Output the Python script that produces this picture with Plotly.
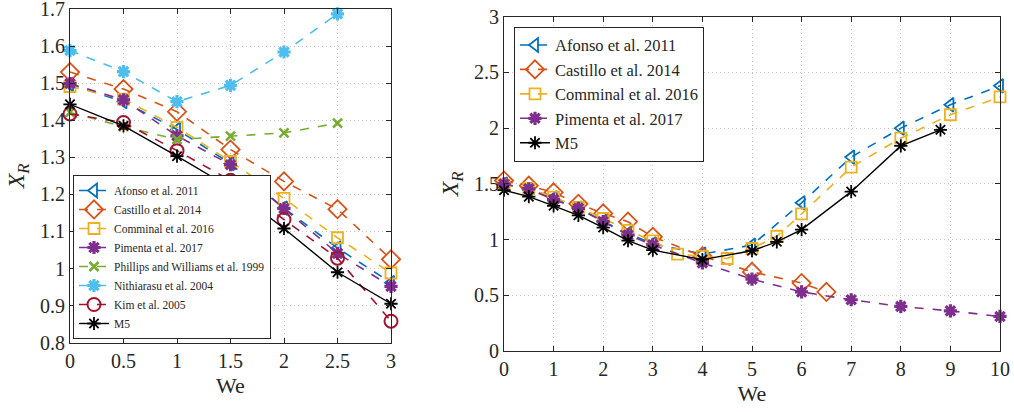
import plotly.graph_objects as go

# ---- Left panel: We in [0, 3] ----
we_left = [0, 0.5, 1, 1.5, 2, 2.5, 3]
afonso_left = [1.497, 1.450, 1.375, 1.283, 1.163, 1.055, 0.962]
castillo_left = [1.530, 1.484, 1.423, 1.321, 1.235, 1.160, 1.025]
comminal_left = [1.491, 1.457, 1.381, 1.289, 1.189, 1.083, 0.988]
pimenta_left = [1.499, 1.455, 1.358, 1.280, 1.162, 1.041, 0.952]
we_phillips = [0, 0.5, 1, 1.5, 2, 2.5]
phillips = [1.421, 1.383, 1.348, 1.357, 1.366, 1.392]
we_nithiarasu = [0, 0.5, 1, 1.5, 2, 2.5]
nithiarasu = [1.588, 1.531, 1.450, 1.494, 1.584, 1.687]
kim = [1.417, 1.394, 1.318, 1.238, 1.132, 1.028, 0.858]
m5_left = [1.443, 1.385, 1.303, 1.218, 1.108, 0.990, 0.905]
left_yticks = [0.8, 0.9, 1.0, 1.1, 1.2, 1.3, 1.4, 1.5, 1.6, 1.7]

# ---- Right panel: We in [0, 10] ----
we_afonso = [0, 0.5, 1, 1.5, 2, 2.5, 3, 4, 5, 6, 7, 8, 9, 10]
afonso_right = [1.497, 1.450, 1.375, 1.283, 1.163, 1.055, 0.962,
                0.870, 0.950, 1.330, 1.740, 2.000, 2.210, 2.380]
we_castillo = [0, 0.5, 1, 1.5, 2, 2.5, 3, 4, 5, 6, 6.5]
castillo_right = [1.530, 1.484, 1.423, 1.321, 1.235, 1.160, 1.025,
                  0.850, 0.710, 0.610, 0.530]
we_comminal = [0, 0.5, 1, 1.5, 2, 2.5, 3, 3.5, 4, 4.5, 5, 5.5, 6, 7, 8, 9, 10]
comminal_right = [1.491, 1.457, 1.381, 1.289, 1.189, 1.083, 0.988,
                  0.870, 0.850, 0.830, 0.920, 1.030, 1.230, 1.650,
                  1.910, 2.120, 2.280]
we_pimenta = [0, 0.5, 1, 1.5, 2, 2.5, 3, 4, 5, 6, 7, 8, 9, 10]
pimenta_right = [1.499, 1.455, 1.358, 1.280, 1.162, 1.041, 0.952,
                 0.790, 0.645, 0.530, 0.460, 0.400, 0.360, 0.310]
we_m5 = [0, 0.5, 1, 1.5, 2, 2.5, 3, 4, 5, 5.5, 6, 7, 8, 8.8]
m5_right = [1.443, 1.385, 1.303, 1.218, 1.108, 0.990, 0.905,
            0.820, 0.900, 0.980, 1.090, 1.430, 1.840, 1.985]

BLUE = "#0072BD"
ORANGE = "#D95319"
YELLOW = "#EDB120"
PURPLE = "#7E2F8E"
GREEN = "#77AC30"
CYAN = "#4DBEEE"
RED = "#A2142F"
BLACK = "#000000"
AXIS_COLOR = "#262626"

FONT = "Liberation Serif, DejaVu Serif, serif"

fig = go.Figure()


def add(x, y, name, color, symbol, size, dash, xa, ya, legend, lw=1.6, mlw=1.8):
    fig.add_trace(go.Scatter(
        x=x, y=y, name=name, mode="lines+markers",
        line=dict(color=color, width=lw, dash=dash),
        marker=dict(symbol=symbol, size=size, color=color,
                    line=dict(color=color, width=mlw)),
        xaxis=xa, yaxis=ya, legend=legend, cliponaxis=False,
    ))


# left panel traces
add(we_left, afonso_left, "Afonso et al. 2011", BLUE, "triangle-left-open", 12, "dash", "x", "y", "legend")
add(we_left, castillo_left, "Castillo et al. 2014", ORANGE, "diamond-open", 14, "dash", "x", "y", "legend")
add(we_left, comminal_left, "Comminal et al. 2016", YELLOW, "square-open", 11, "dash", "x", "y", "legend")
add(we_left, pimenta_left, "Pimenta et al. 2017", PURPLE, "asterisk-open", 11, "dash", "x", "y", "legend", mlw=3.2)
add(we_phillips, phillips, "Phillips and Williams et al. 1999", GREEN, "x-thin-open", 9, "dash", "x", "y", "legend", mlw=2.6)
add(we_nithiarasu, nithiarasu, "Nithiarasu et al. 2004", CYAN, "asterisk-open", 11, "dash", "x", "y", "legend", mlw=3.2)
add(we_left, kim, "Kim et al. 2005", RED, "circle-open", 13, "dash", "x", "y", "legend", mlw=2.0)
add(we_left, m5_left, "M5", BLACK, "asterisk-open", 11, "solid", "x", "y", "legend", lw=1.4, mlw=1.8)

# right panel traces
add(we_afonso, afonso_right, "Afonso et al. 2011", BLUE, "triangle-left-open", 12, "dash", "x2", "y2", "legend2")
add(we_castillo, castillo_right, "Castillo et al. 2014", ORANGE, "diamond-open", 14, "dash", "x2", "y2", "legend2")
add(we_comminal, comminal_right, "Comminal et al. 2016", YELLOW, "square-open", 11, "dash", "x2", "y2", "legend2")
add(we_pimenta, pimenta_right, "Pimenta et al. 2017", PURPLE, "asterisk-open", 11, "dash", "x2", "y2", "legend2", mlw=3.2)
add(we_m5, m5_right, "M5", BLACK, "asterisk-open", 11, "solid", "x2", "y2", "legend2", lw=1.4, mlw=1.8)

axis_common = dict(
    showline=True, linecolor=AXIS_COLOR, linewidth=1, mirror="ticks",
    ticks="inside", ticklen=5, tickcolor=AXIS_COLOR, automargin=False,
    ticklabeloverflow="allow",
    showgrid=True, gridcolor="#c4c4c4", griddash="1px,3px", gridwidth=1,
    zeroline=False, tickfont=dict(family=FONT, size=20, color=AXIS_COLOR),
)

W, H = 1014, 412
# outer frame of both panels in pixels
L, R, T, B = 70, 1000, 9.3, 351
PW, PH = R - L, B - T


def xdom(a, b):
    return [(a - L) / PW, (b - L) / PW]


def ydom(top, bottom):
    return [(B - bottom) / PH, (B - top) / PH]


fig.update_layout(
    width=W, height=H, template="none",
    margin=dict(l=L, r=W - R, t=T, b=H - B, pad=0),
    paper_bgcolor="white", plot_bgcolor="white",
    font=dict(family=FONT, color=AXIS_COLOR),
    xaxis=dict(domain=xdom(70, 391), range=[0, 3], tick0=0, dtick=0.5,
               anchor="y",
               title=dict(text="We", font=dict(family=FONT, size=22), standoff=6),
               **axis_common),
    yaxis=dict(domain=ydom(9.3, 342.7), range=[0.8, 1.7], tickmode="array",
               tickvals=left_yticks, ticktext=[f"{v:g}" for v in left_yticks],
               anchor="x",
               title=dict(text="<i>X</i><sub><i>R</i></sub>", font=dict(family=FONT, size=24),
                          standoff=8),
               **axis_common),
    xaxis2=dict(domain=xdom(504, 1000), range=[0, 10], tick0=0, dtick=1,
                anchor="y2",
                title=dict(text="We", font=dict(family=FONT, size=22), standoff=6),
                **axis_common),
    yaxis2=dict(domain=ydom(17, 351), range=[0, 3], tick0=0,
                dtick=0.5, anchor="x2",
                title=dict(text="<i>X</i><sub><i>R</i></sub>", font=dict(family=FONT, size=24),
                           standoff=8),
                **axis_common),
    legend=dict(x=(73 - L) / PW, y=(B - 339) / PH, xanchor="left", yanchor="bottom",
                bgcolor="white", bordercolor=AXIS_COLOR, borderwidth=1,
                font=dict(family=FONT, size=11.5, color=AXIS_COLOR),
                itemwidth=30, tracegroupgap=0),
    legend2=dict(x=(514 - L) / PW, y=(B - 27) / PH, xanchor="left", yanchor="top",
                 bgcolor="white", bordercolor=AXIS_COLOR, borderwidth=1,
                 font=dict(family=FONT, size=16.5, color=AXIS_COLOR),
                 itemwidth=30, tracegroupgap=0),
    showlegend=True,
)

fig.write_html("out.html")
